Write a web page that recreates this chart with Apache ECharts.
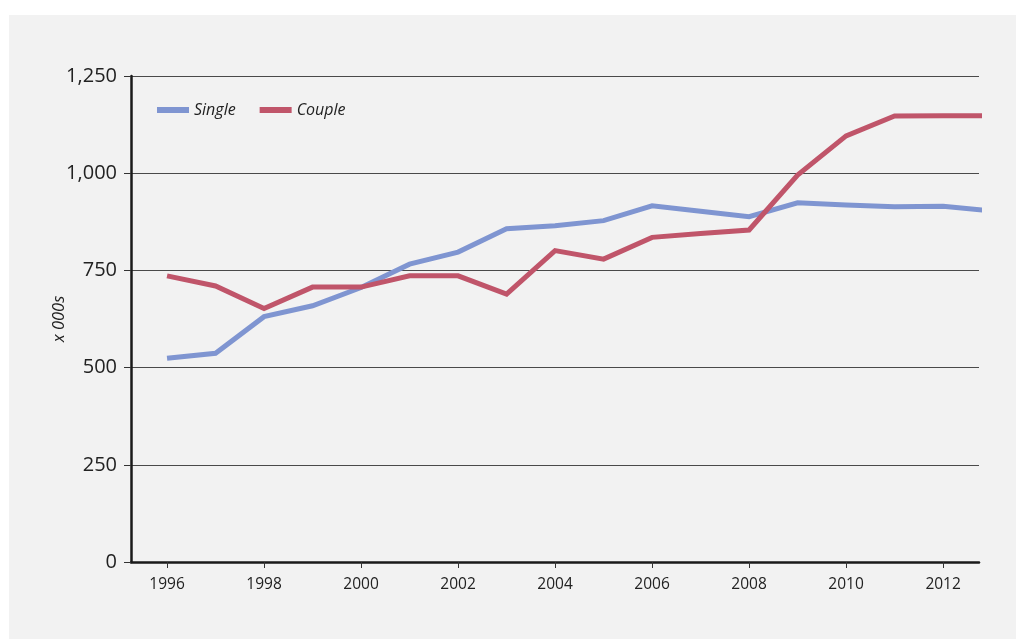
<!DOCTYPE html>
<html>
<head>
<meta charset="utf-8">
<script src="https://cdn.jsdelivr.net/npm/echarts@6/dist/echarts.min.js"></script>
<style>
  html, body { margin: 0; padding: 0; background: #ffffff; }
  #panel { position: absolute; left: 9px; top: 15px; width: 1007px; height: 624px; background: #f2f2f2; }
  #chart { position: absolute; left: 0; top: 0; width: 1016px; height: 639px; }
</style>
</head>
<body>
<div id="panel"></div>
<div id="chart"></div>
<script>
// Households (thousands) by type, yearly
const years   = [1996, 1997, 1998, 1999, 2000, 2001, 2002, 2003, 2004, 2005, 2006, 2007, 2008, 2009, 2010, 2011, 2012, 2013];
const single  = [524, 537, 631, 659, 706, 766, 797, 857, 865, 878, 916, 902, 888, 924, 918, 914, 915, 903];
const couple  = [736, 710, 652, 707, 707, 736, 736, 689, 801, 779, 835, 845, 854, 995, 1096, 1147, 1148, 1148];
const yearTicks = [1996, 1998, 2000, 2002, 2004, 2006, 2008, 2010, 2012];

const font = '"Open Sans", "Noto Sans", sans-serif';
const pairs = (vals) => years.map((y, i) => [y, vals[i]]);

const chart = echarts.init(document.getElementById('chart'), null, { renderer: 'canvas' });
chart.setOption({
  backgroundColor: 'transparent',
  animation: false,
  grid: { left: 131, right: 37, top: 76, bottom: 77 },
  legend: {
    left: 152, top: 97,
    icon: 'rect', itemWidth: 32, itemHeight: 6, itemGap: 24,
    textStyle: { fontFamily: font, fontSize: 16, fontStyle: 'italic', color: '#222' },
    data: ['Single', 'Couple']
  },
  xAxis: {
    type: 'value',
    min: 1995.257, max: 2012.74,
    axisLine: { show: true, onZero: false, lineStyle: { color: '#1a1a1a', width: 2.5 } },
    axisTick: { show: true, length: 6, customValues: yearTicks, lineStyle: { color: '#333', width: 1 } },
    axisLabel: {
      customValues: yearTicks, margin: 15,
      fontFamily: font, fontSize: 15.5, color: '#222',
      formatter: (v) => String(v)
    },
    splitLine: { show: false }
  },
  yAxis: {
    type: 'value',
    min: 0, max: 1250, interval: 250,
    name: 'x 000s', nameLocation: 'middle', nameGap: 63, nameMoveOverlap: false,
    nameTextStyle: { fontFamily: font, fontSize: 16.5, fontStyle: 'italic', color: '#222' },
    axisLine: { show: true, lineStyle: { color: '#1a1a1a', width: 2.5 } },
    axisTick: { show: true, length: 7, lineStyle: { color: '#333', width: 1 } },
    axisLabel: {
      margin: 14, fontFamily: font, fontSize: 20, color: '#222',
      formatter: (v) => v.toLocaleString('en-US')
    },
    splitLine: { show: true, lineStyle: { color: '#4a4a4a', width: 1 } }
  },
  series: [
    {
      name: 'Single', type: 'line', data: pairs(single),
      symbol: 'none', clip: true,
      itemStyle: { color: '#7f95d1' },
      lineStyle: { color: '#7f95d1', width: 5, join: 'miter' }
    },
    {
      name: 'Couple', type: 'line', data: pairs(couple),
      symbol: 'none', clip: true,
      itemStyle: { color: '#c0556a' },
      lineStyle: { color: '#c0556a', width: 5, join: 'miter' }
    }
  ]
});
</script>
</body>
</html>
